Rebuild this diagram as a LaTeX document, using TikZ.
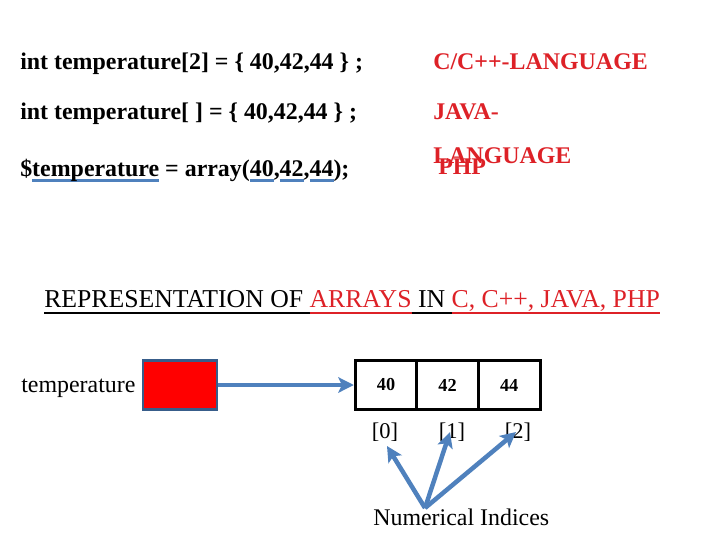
\documentclass[tikz,border=0pt]{standalone}
\usepackage{fontspec}
\setmainfont{Liberation Serif}
\usepackage{tikz}
\usetikzlibrary{arrows.meta,positioning,calc}
\definecolor{ptrblue}{HTML}{4F81BD}
\definecolor{ptredge}{HTML}{385D8A}
\definecolor{langred}{HTML}{DD2127}
% underline a piece of text with a rule of a given colour and depth
\newcommand{\markline}[4]{%
  \setbox0\hbox{#4}\rlap{\color{#1}\rule[#2]{\wd0}{#3}}\box0{}}

\begin{document}
\begin{tikzpicture}[x=0.025cm,y=-0.025cm,>=Latex,
  code/.style={anchor=base west,inner sep=0pt,font=\fontsize{17}{20}\selectfont\bfseries},
  lang/.style={code,text=langred},
  plain/.style={inner sep=0pt,font=\fontsize{17}{20}\selectfont},
  cell/.style={draw=black,line width=2.1pt,outer sep=0pt,inner sep=0pt,
    minimum width=1.54cm,minimum height=1.22cm,font=\fontsize{13}{15}\selectfont\bfseries},
  idx/.style={anchor=base,inner sep=0pt,font=\fontsize{16}{18}\selectfont},
  pointer/.style={-{Stealth[length=11pt,width=11pt,inset=2.5pt]},draw=ptrblue,line width=3.2pt}]
  \useasboundingbox (0,0) rectangle (720,540);
  % declarations in the three languages
  \node[code] (cdecl) at (20,69) {int temperature[2] = \{ 40,42,44 \} ;};
  \node[lang] (clang) at (433,69) {C/C++-LANGUAGE};
  \node[code] (jdecl) at (20,119) {int temperature[ ] = \{ 40,42,44 \} ;};
  \node[lang] (jlang) at (433,119) {JAVA-};
  \node[code] (pdecl) at (20,176) {\$\markline{ptrblue}{-4pt}{2.2pt}{temperature} = array(\markline{ptrblue}{-4pt}{2.2pt}{40},\markline{ptrblue}{-4pt}{2.2pt}{42},\markline{ptrblue}{-4pt}{2.2pt}{44});};
  \node[lang] (jlang2) at (433,163) {LANGUAGE};
  \node[lang] (plang) at (438,174) {PHP};
  % heading
  \node[plain,anchor=base west,font=\fontsize{18.3}{21}\selectfont] (title) at (44,307)
    {\markline{black}{-5pt}{1.4pt}{REPRESENTATION OF }\textcolor{langred}{\markline{langred}{-5pt}{1.4pt}{ARRAYS}}\markline{black}{-5pt}{1.4pt}{ IN }\textcolor{langred}{\markline{langred}{-5pt}{1.4pt}{C, C++, JAVA, PHP}}};
  % variable and array
  \node[draw=ptredge,fill=red,line width=1.8pt,minimum width=1.85cm,minimum height=1.22cm] (ptr) at (180,385) {};
  \node[plain,left=0.15cm of ptr,yshift=-2pt] (varname) {temperature};
  \node[cell] (c0) at (386,385) {40};
  \node[cell,right=0pt of c0] (c1) {42};
  \node[cell,right=0pt of c1] (c2) {44};
  \draw[pointer,shorten >=1pt] (ptr) -- (c0);
  % indices
  \node[idx] (i0) at (385,438) {[0]};
  \node[idx] (i1) at (452,438) {[1]};
  \node[idx] (i2) at (518,438) {[2]};
  \node[plain,anchor=base west] (numidx) at (373,525) {Numerical Indices};
  \coordinate (hub) at (425,508);
  \coordinate (t0) at (387,446);
  \coordinate (t1) at (450,432);
  \coordinate (t2) at (516,432);
  \draw[pointer] (hub) -- (t0);
  \draw[pointer] (hub) -- (t1);
  \draw[pointer] (hub) -- (t2);
\end{tikzpicture}
\end{document}
